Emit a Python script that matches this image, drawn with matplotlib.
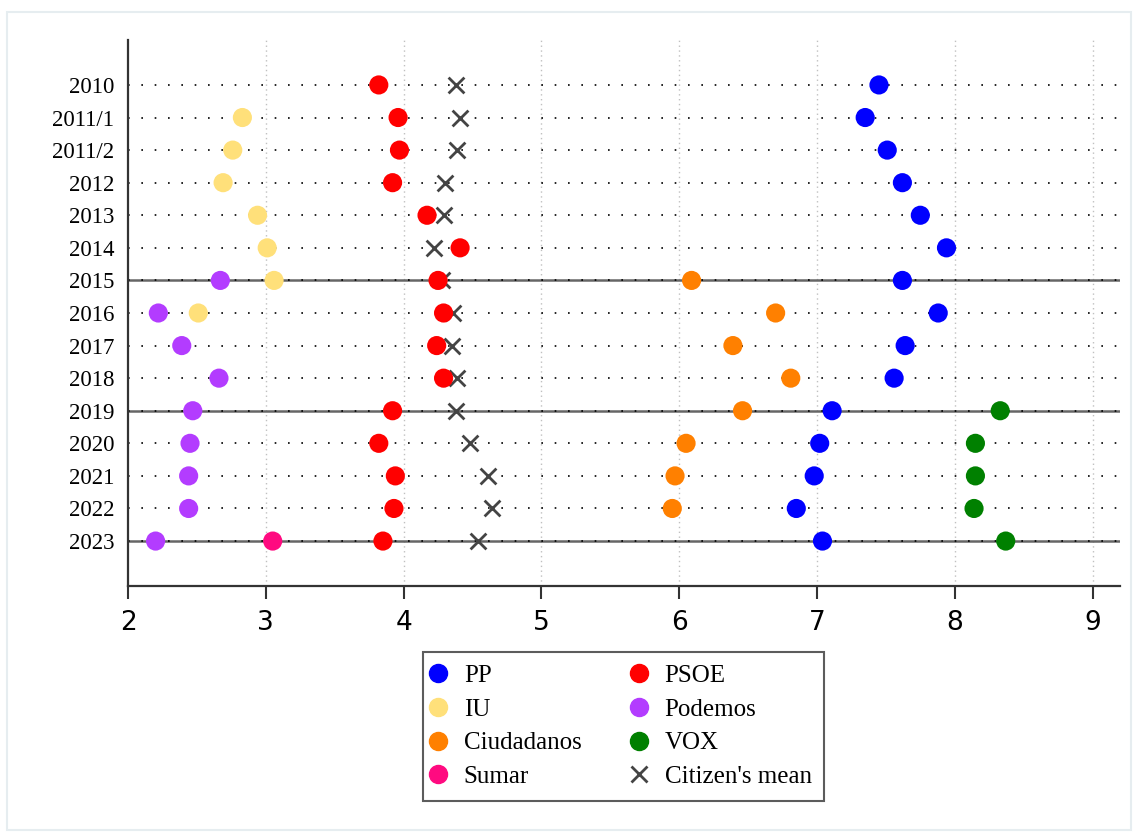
import numpy as np
import matplotlib
matplotlib.use("Agg")
import matplotlib.pyplot as plt
from matplotlib.lines import Line2D
from matplotlib.patches import Rectangle

nan = np.nan

years = ["2010", "2011/1", "2011/2", "2012", "2013", "2014", "2015", "2016",
         "2017", "2018", "2019", "2020", "2021", "2022", "2023"]

pp = [7.45, 7.35, 7.51, 7.62, 7.75, 7.94, 7.62, 7.88, 7.64, 7.56, 7.11, 7.02, 6.98, 6.85, 7.04]
psoe = [3.82, 3.96, 3.97, 3.92, 4.17, 4.41, 4.25, 4.29, 4.24, 4.29, 3.92, 3.82, 3.94, 3.93, 3.85]
iu = [nan, 2.83, 2.76, 2.69, 2.94, 3.01, 3.06, 2.51, nan, nan, nan, nan, nan, nan, nan]
podemos = [nan, nan, nan, nan, nan, nan, 2.67, 2.22, 2.39, 2.66, 2.47, 2.45, 2.44, 2.44, 2.20]
ciudadanos = [nan, nan, nan, nan, nan, nan, 6.09, 6.70, 6.39, 6.81, 6.46, 6.05, 5.97, 5.95, nan]
vox = [nan, nan, nan, nan, nan, nan, nan, nan, nan, nan, 8.33, 8.15, 8.15, 8.14, 8.37]
sumar = [nan, nan, nan, nan, nan, nan, nan, nan, nan, nan, nan, nan, nan, nan, 3.05]
citizen_mean = [4.38, 4.41, 4.39, 4.30, 4.29, 4.22, 4.28, 4.36, 4.35, 4.39, 4.38, 4.48, 4.61, 4.64, 4.54]

solid_rows = ["2015", "2019", "2023"]

# orden pensado para la leyenda de 2 columnas (se llena por columnas)
parties = [("PP", pp, "#0000ff"), ("IU", iu, "#ffe07a"), ("Ciudadanos", ciudadanos, "#ff8000"),
           ("Sumar", sumar, "#ff0a80"), ("PSOE", psoe, "#ff0000"), ("Podemos", podemos, "#b33cff"),
           ("VOX", vox, "#008000")]

fig = plt.figure(figsize=(11.36, 8.33), dpi=100)
fig.patches.append(Rectangle((0.006, 0.004), 0.99, 0.981, transform=fig.transFigure,
                             fill=False, edgecolor="#e6edf0", lw=1.5))
ax = fig.add_axes([0.1127, 0.2965, 0.8733, 0.6555])

y = np.arange(len(years))

# rayas horizontales
for i, yr in enumerate(years):
    if yr in solid_rows:
        ax.axhline(i, color="#666666", lw=1.8, zorder=1)
    ax.axhline(i, color="black", lw=1.2, ls=(0, (1, 7)), zorder=1.5)

for xv in range(3, 10):
    ax.axvline(xv, color="#c0c0c0", lw=1.0, ls=(0, (1, 2.5)), zorder=0.5)

ax.scatter(citizen_mean, y, marker="x", s=130, color="#444444", linewidths=2, zorder=3)
for name, vals, col in parties:
    ax.scatter(vals, y, s=190, color=col, edgecolors="none", zorder=4)

ax.set_xlim(2, 9.2)
ax.set_ylim(len(years) - 1 + 1.38, -1.38)
ax.set_yticks(y)
ax.set_yticklabels(years, fontfamily="Liberation Serif", fontsize=16.5)
ax.tick_params(axis="y", length=0, pad=10)
ax.set_xticks(range(2, 10))
ax.tick_params(axis="x", length=9, width=1.5, color="#333333", labelsize=19, pad=8)

for s in ["top", "right"]:
    ax.spines[s].set_visible(False)
for s in ["left", "bottom"]:
    ax.spines[s].set_color("#333333")
    ax.spines[s].set_linewidth(1.6)

handles = []
labels = []
for name, vals, col in parties:
    handles.append(Line2D([], [], marker="o", ls="none", color=col, markersize=13))
    labels.append(name)
handles.append(Line2D([], [], marker="x", ls="none", color="#444444", markersize=11, mew=2))
labels.append("Citizen's mean")

leg = fig.legend(handles, labels, ncol=2, loc="upper center", bbox_to_anchor=(0.549, 0.2173),
                 prop={"family": "Liberation Serif", "size": 18}, frameon=True, fancybox=False,
                 edgecolor="#333333", columnspacing=2.2, handletextpad=0.92, labelspacing=0.45,
                 borderpad=0.5, handlelength=0.2, borderaxespad=0)
leg.get_frame().set_linewidth(1.5)

fig.savefig("out.png", dpi=100)
